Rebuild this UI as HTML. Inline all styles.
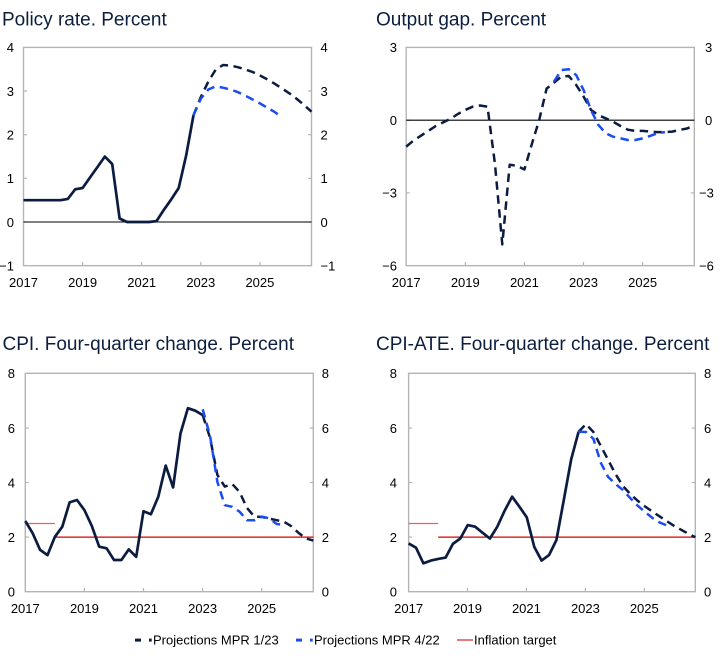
<!DOCTYPE html>
<html>
<head>
<meta charset="utf-8">
<style>
  html, body { margin:0; padding:0; background:#ffffff; }
  svg { display:block; }
  text { font-family: "Liberation Sans", Arial, sans-serif; }
  .t { font-size:19px; fill:#0c1e3e; }
  .l { font-size:13px; fill:#000; }
  .frame { fill:none; stroke:#b4b4b4; stroke-width:1.4; }
  .tick { stroke:#b4b4b4; stroke-width:1.2; }
  .solid { fill:none; stroke:#0b1c40; stroke-width:2.7; stroke-linejoin:round; stroke-linecap:butt; }
  .bd { fill:none; stroke:#0b1c40; stroke-width:2.5; stroke-dasharray:8.5 5.5; stroke-linejoin:round; }
  .blu { fill:none; stroke:#1a4cf2; stroke-width:2.5; stroke-dasharray:8.5 5.5; stroke-linejoin:round; }
  .zero { stroke:#000; stroke-width:1.1; }
  .tg { stroke:#d40000; stroke-width:1.2; }
  .tg25 { stroke:#f25c5c; stroke-width:1.2; }
</style>
</head>
<body>
<svg width="722" height="672" viewBox="0 0 722 672" xmlns="http://www.w3.org/2000/svg">
<rect x="0" y="0" width="722" height="672" fill="#fff"/>

<!-- Titles -->
<text class="t" x="2" y="25.5">Policy rate. Percent</text>
<text class="t" x="376" y="25.5">Output gap. Percent</text>
<text class="t" x="2.5" y="350">CPI. Four-quarter change. Percent</text>
<text class="t" x="376" y="350">CPI-ATE. Four-quarter change. Percent</text>

<!-- ================= Panel 1: Policy rate ================= -->
<rect class="frame" x="23.5" y="47.4" width="288" height="218.25"/>
<g class="tick">
  <line x1="23.5" y1="91.05" x2="27" y2="91.05"/><line x1="23.5" y1="134.7" x2="27" y2="134.7"/>
  <line x1="23.5" y1="178.35" x2="27" y2="178.35"/><line x1="23.5" y1="222" x2="27" y2="222"/>
  <line x1="311.5" y1="91.05" x2="308" y2="91.05"/><line x1="311.5" y1="134.7" x2="308" y2="134.7"/>
  <line x1="311.5" y1="178.35" x2="308" y2="178.35"/><line x1="311.5" y1="222" x2="308" y2="222"/>
  <line x1="82.6" y1="265.65" x2="82.6" y2="262"/><line x1="141.7" y1="265.65" x2="141.7" y2="262"/>
  <line x1="200.8" y1="265.65" x2="200.8" y2="262"/><line x1="259.9" y1="265.65" x2="259.9" y2="262"/>
</g>
<line class="zero" x1="23.5" y1="222" x2="311.5" y2="222"/>
<g class="l" text-anchor="end">
  <text class="l" x="14" y="52.2">4</text><text class="l" x="14" y="95.85">3</text>
  <text class="l" x="14" y="139.5">2</text><text class="l" x="14" y="183.15">1</text>
  <text class="l" x="14" y="226.8">0</text><text class="l" x="14" y="270.45">−1</text>
</g>
<g>
  <text class="l" x="320.5" y="52.2">4</text><text class="l" x="320.5" y="95.85">3</text>
  <text class="l" x="320.5" y="139.5">2</text><text class="l" x="320.5" y="183.15">1</text>
  <text class="l" x="320.5" y="226.8">0</text><text class="l" x="320.5" y="270.45">−1</text>
</g>
<g text-anchor="middle">
  <text class="l" x="23.5" y="287">2017</text><text class="l" x="82.6" y="287">2019</text>
  <text class="l" x="141.7" y="287">2021</text><text class="l" x="200.8" y="287">2023</text>
  <text class="l" x="259.9" y="287">2025</text>
</g>
<polyline class="solid" points="23.5,200.2 30.9,200.2 38.3,200.2 45.7,200.2 53.1,200.2 60.5,200.2 67.8,198.9 75.2,189.3 82.6,188.0 90.0,177.5 97.4,167.1 104.8,156.6 112.2,164.0 119.6,218.5 127.0,222 134.4,222 141.7,222 149.1,222 156.5,221.1 163.9,209.8 171.3,199.3 178.7,188.0 186.1,155.7 193.5,115.2"/>
<polyline class="bd" points="193.5,115.2 200.9,96.9 208.3,81.6 215.6,69.8 223.0,65.0 230.4,65.5 237.8,67.2 245.2,69.4 252.6,72.0 260.0,75.5 267.4,79.4 274.8,83.8 282.2,88.6 289.5,93.4 296.9,99.0 304.3,105.2 311.5,111.7"/>
<polyline class="blu" points="193.5,115.2 200.9,98.6 208.3,89.5 215.6,86.4 223.0,87.7 230.4,89.5 237.8,92.1 245.2,95.6 252.6,99.5 260.0,103.4 267.4,107.8 274.8,112.1 282.2,117.4"/>

<!-- ================= Panel 2: Output gap ================= -->
<rect class="frame" x="406.2" y="47.4" width="288.1" height="218.25"/>
<g class="tick">
  <line x1="406.2" y1="120.15" x2="409.7" y2="120.15"/><line x1="406.2" y1="192.9" x2="409.7" y2="192.9"/>
  <line x1="694.3" y1="120.15" x2="690.8" y2="120.15"/><line x1="694.3" y1="192.9" x2="690.8" y2="192.9"/>
  <line x1="465.3" y1="265.65" x2="465.3" y2="262"/><line x1="524.4" y1="265.65" x2="524.4" y2="262"/>
  <line x1="583.5" y1="265.65" x2="583.5" y2="262"/><line x1="642.6" y1="265.65" x2="642.6" y2="262"/>
</g>
<line class="zero" x1="406.2" y1="120.15" x2="694.3" y2="120.15"/>
<g text-anchor="end">
  <text class="l" x="397" y="52.2">3</text><text class="l" x="397" y="124.95">0</text>
  <text class="l" x="397" y="197.7">−3</text><text class="l" x="397" y="270.45">−6</text>
</g>
<g>
  <text class="l" x="705" y="52.2">3</text><text class="l" x="705" y="124.95">0</text>
  <text class="l" x="699" y="197.7">−3</text><text class="l" x="699" y="270.45">−6</text>
</g>
<g text-anchor="middle">
  <text class="l" x="406.2" y="287">2017</text><text class="l" x="465.3" y="287">2019</text>
  <text class="l" x="524.4" y="287">2021</text><text class="l" x="583.5" y="287">2023</text>
  <text class="l" x="642.6" y="287">2025</text>
</g>
<polyline class="bd" points="406.2,146.6 413.6,140.5 421.0,135.7 428.4,130.9 435.8,126.0 443.2,122.4 450.5,118.8 457.9,114.0 465.3,109.9 472.7,106.7 480.1,105.5 487.5,106.7 494.9,163.5 502.3,244.4 509.7,164.7 517.1,165.9 524.4,169.5 531.8,144.2 539.2,120 546.6,88.6 554.0,82.6 561.4,76.5 568.8,76.0 576.2,85.0 583.6,96.6 591.0,109.9 598.3,115.2 605.7,118.3 613.1,121.7 620.5,126.0 627.9,129.7 635.3,130.9 642.7,130.9 650.1,131.6 657.5,132.1 664.9,132.1 672.2,131.6 679.6,129.9 687.0,128.5 694.3,125.6"/>
<polyline class="blu" points="554.0,81.5 561.4,70.0 568.8,69.3 576.2,75.1 583.6,90.1 591.0,110.1 598.3,124.8 605.7,133.3 613.1,136.7 620.5,138.4 627.9,140.0 635.3,140.0 642.7,138.4 650.1,135.9 657.5,133.3 664.9,132.1"/>

<!-- ================= Panel 3: CPI ================= -->
<rect class="frame" x="25.3" y="373.3" width="288" height="218.4"/>
<g class="tick">
  <line x1="25.3" y1="428.1" x2="28.8" y2="428.1"/><line x1="25.3" y1="482.5" x2="28.8" y2="482.5"/>
  <line x1="25.3" y1="537.1" x2="28.8" y2="537.1"/>
  <line x1="313.3" y1="428.1" x2="309.8" y2="428.1"/><line x1="313.3" y1="482.5" x2="309.8" y2="482.5"/>
  <line x1="313.3" y1="537.1" x2="309.8" y2="537.1"/>
  <line x1="84.4" y1="591.7" x2="84.4" y2="588"/><line x1="143.5" y1="591.7" x2="143.5" y2="588"/>
  <line x1="202.6" y1="591.7" x2="202.6" y2="588"/><line x1="261.7" y1="591.7" x2="261.7" y2="588"/>
</g>
<line class="tg25" x1="25.3" y1="523.5" x2="54.9" y2="523.5"/>
<line class="tg" x1="54.9" y1="537.1" x2="313.3" y2="537.1"/>
<g text-anchor="end">
  <text class="l" x="15" y="378.1">8</text><text class="l" x="15" y="432.9">6</text>
  <text class="l" x="15" y="487.3">4</text><text class="l" x="15" y="541.9">2</text>
  <text class="l" x="15" y="596.5">0</text>
</g>
<g>
  <text class="l" x="321.7" y="378.1">8</text><text class="l" x="321.7" y="432.9">6</text>
  <text class="l" x="321.7" y="487.3">4</text><text class="l" x="321.7" y="541.9">2</text>
  <text class="l" x="321.7" y="596.5">0</text>
</g>
<g text-anchor="middle">
  <text class="l" x="25.3" y="613">2017</text><text class="l" x="84.4" y="613">2019</text>
  <text class="l" x="143.5" y="613">2021</text><text class="l" x="202.6" y="613">2023</text>
  <text class="l" x="261.7" y="613">2025</text>
</g>
<polyline class="solid" points="25.3,521.0 32.7,533.3 40.1,549.9 47.5,555.1 54.9,536.8 62.3,526.7 69.6,502.4 77.0,500.0 84.4,510.1 91.8,525.9 99.2,546.7 106.6,548.3 114.0,560.0 121.4,560.0 128.8,549.4 136.2,556.8 143.5,511.2 150.9,514.2 158.3,496.7 165.7,465.6 173.1,487.4 180.5,433.4 187.9,408.2 195.3,410.7 202.7,415.1"/>
<polyline class="bd" points="202.7,415.1 210.1,438.0 217.4,475.0 224.8,486.6 232.2,484.0 239.6,492.0 247.0,508.0 254.4,516.6 261.8,516.9 269.2,518.6 276.6,520.2 284.0,521.8 291.3,526.2 298.7,533.0 306.1,538.5 313.3,540.6"/>
<polyline class="blu" points="202.7,409.3 210.1,436.0 217.4,482.0 224.8,505.2 232.2,506.8 239.6,511.7 247.0,520.2 254.4,520.2 261.8,516.6 269.2,518.3 276.6,524.0 284.0,524.8"/>

<!-- ================= Panel 4: CPI-ATE ================= -->
<rect class="frame" x="408.6" y="373.3" width="286.7" height="218.4"/>
<g class="tick">
  <line x1="408.6" y1="428.1" x2="412.1" y2="428.1"/><line x1="408.6" y1="482.5" x2="412.1" y2="482.5"/>
  <line x1="408.6" y1="537.1" x2="412.1" y2="537.1"/>
  <line x1="695.3" y1="428.1" x2="691.8" y2="428.1"/><line x1="695.3" y1="482.5" x2="691.8" y2="482.5"/>
  <line x1="695.3" y1="537.1" x2="691.8" y2="537.1"/>
  <line x1="467.5" y1="591.7" x2="467.5" y2="588"/><line x1="526.4" y1="591.7" x2="526.4" y2="588"/>
  <line x1="585.4" y1="591.7" x2="585.4" y2="588"/><line x1="644.3" y1="591.7" x2="644.3" y2="588"/>
</g>
<line class="tg25" x1="408.6" y1="523.5" x2="438.2" y2="523.5"/>
<line class="tg" x1="438.2" y1="537.1" x2="695.3" y2="537.1"/>
<g text-anchor="end">
  <text class="l" x="397" y="378.1">8</text><text class="l" x="397" y="432.9">6</text>
  <text class="l" x="397" y="487.3">4</text><text class="l" x="397" y="541.9">2</text>
  <text class="l" x="397" y="596.5">0</text>
</g>
<g>
  <text class="l" x="704" y="378.1">8</text><text class="l" x="704" y="432.9">6</text>
  <text class="l" x="704" y="487.3">4</text><text class="l" x="704" y="541.9">2</text>
  <text class="l" x="704" y="596.5">0</text>
</g>
<g text-anchor="middle">
  <text class="l" x="408.6" y="613">2017</text><text class="l" x="467.5" y="613">2019</text>
  <text class="l" x="526.4" y="613">2021</text><text class="l" x="585.4" y="613">2023</text>
  <text class="l" x="644.3" y="613">2025</text>
</g>
<polyline class="solid" points="408.6,543.4 416.0,547.7 423.4,563.3 430.8,560.6 438.2,558.9 445.6,557.6 452.9,543.9 460.3,538.5 467.7,525.1 475.1,526.7 482.5,532.7 489.9,538.5 497.3,526.7 504.7,510.6 512.1,496.7 519.5,506.8 526.8,517.4 534.2,546.7 541.6,560.6 549.0,555.1 556.4,540.1 563.8,500.0 571.2,459.3 578.6,431.7"/>
<polyline class="bd" points="578.6,431.7 586.0,424.1 593.4,432.0 600.8,445.9 608.2,460.1 615.5,474.0 622.9,486.0 630.3,494.0 637.7,500.8 645.1,506.5 652.5,511.7 659.9,516.6 667.3,521.5 674.7,526.2 682.1,530.3 689.4,534.4 695.3,537.1"/>
<polyline class="blu" points="578.6,431.7 586.0,432.0 593.4,438.8 600.8,462.8 608.2,477.0 615.5,483.9 622.9,490.1 630.3,498.1 637.7,505.7 645.1,512.0 652.5,518.0 659.9,522.6 667.3,525.6"/>

<!-- ================= Legend ================= -->
<rect x="135" y="638.6" width="6" height="3" fill="#0b1c40"/>
<rect x="149" y="638.6" width="2.7" height="3" fill="#0b1c40"/>
<text class="l" x="153" y="644.5">Projections MPR 1/23</text>
<rect x="296" y="638.6" width="6" height="3" fill="#1a4cf2"/>
<rect x="310" y="638.6" width="2.7" height="3" fill="#1a4cf2"/>
<text class="l" x="314" y="644.5">Projections MPR 4/22</text>
<line x1="457" y1="640" x2="473" y2="640" stroke="#e02020" stroke-width="1.2"/>
<text class="l" x="474" y="644.5">Inflation target</text>
</svg>
</body>
</html>
